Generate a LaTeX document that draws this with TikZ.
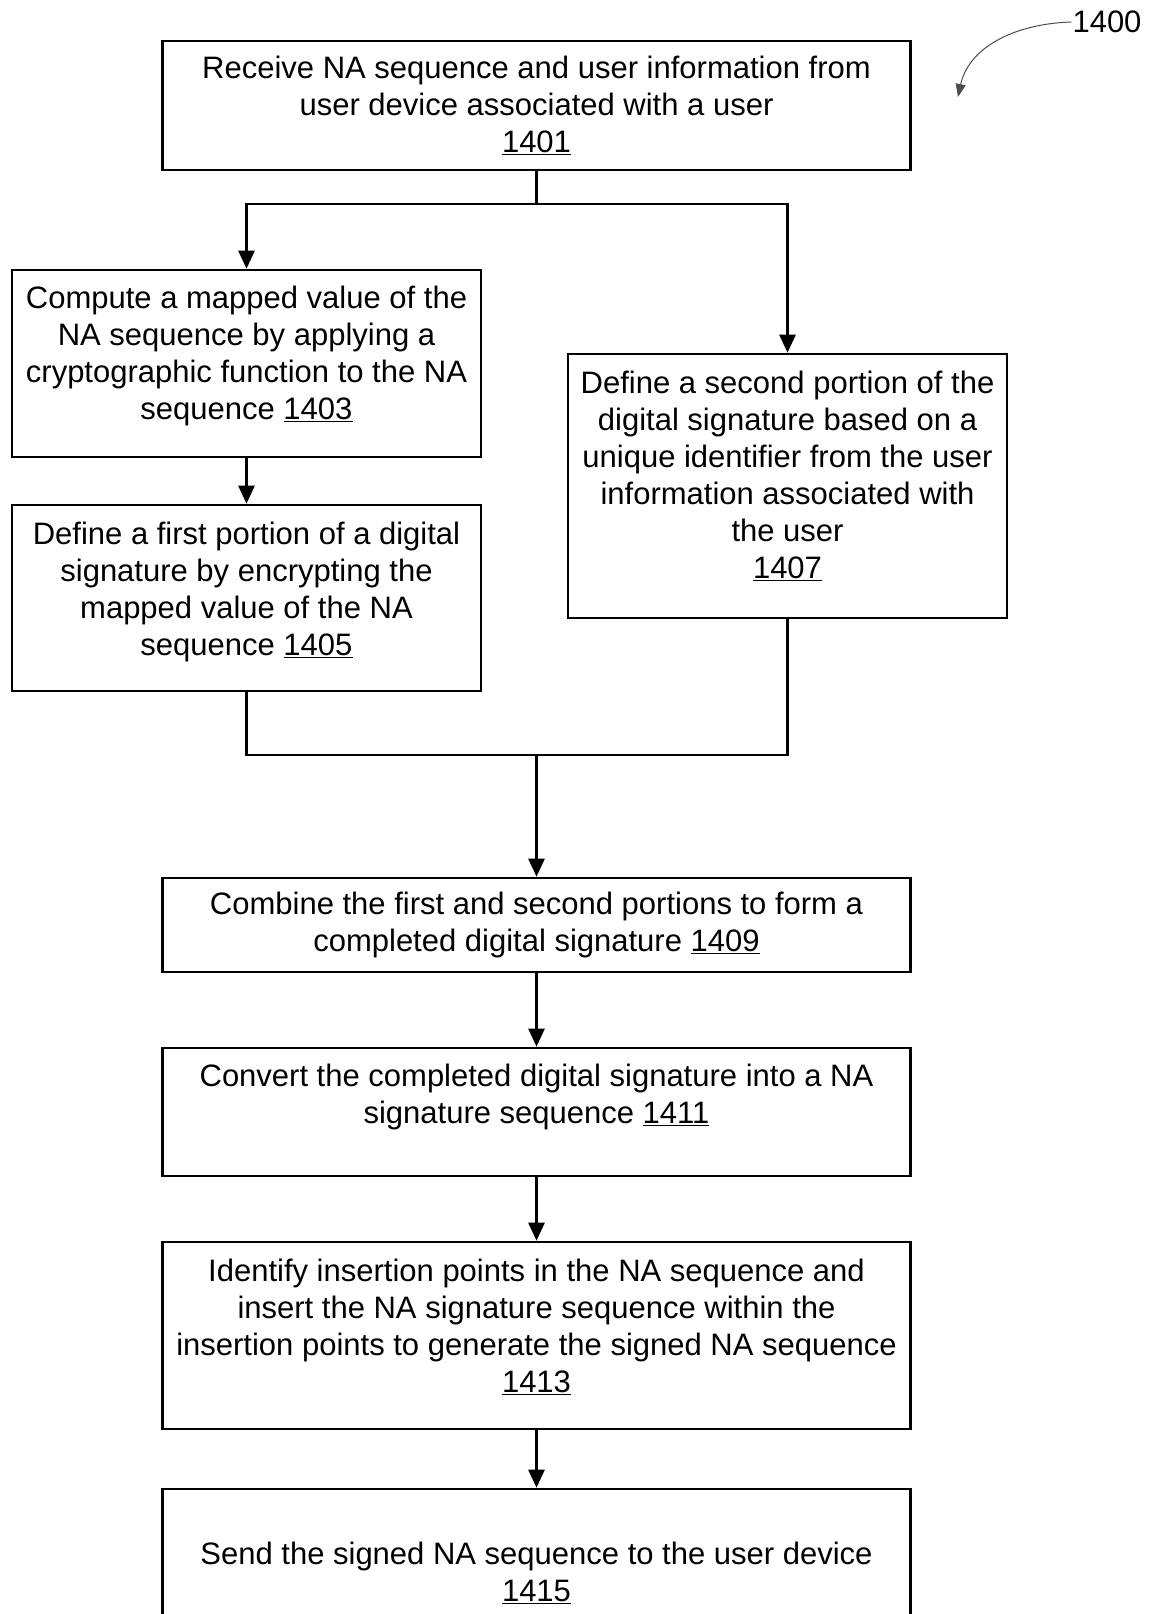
\documentclass[tikz,border=0pt]{standalone}
\usepackage{fontspec}
\setmainfont{Liberation Sans}
\usetikzlibrary{calc}
\usetikzlibrary{arrows.meta}

\begin{document}
\begin{tikzpicture}[x=1pt,y=-1pt,
  box/.style={draw=black,line width=2.6pt,rectangle,align=center,inner xsep=4pt,inner ysep=2pt,font=\fontsize{31}{37}\selectfont},
  arr/.style={black,line width=2.6pt,-{Triangle[length=18pt,width=16pt]}},
  lin/.style={black,line width=2.6pt}]

\useasboundingbox (0,0) rectangle (1149,1614);
\clip (0,0) rectangle (1149,1614);

\node[box,minimum width=748pt,minimum height=129pt] (b1401) at (536.5,105.5) {Receive NA sequence and user information from\\user device associated with a user\\\underline{1401}};
\node[box,minimum width=469pt,minimum height=187pt] (b1403) at (246.5,363.5) {Compute a mapped value of the\\NA sequence by applying a\\cryptographic function to the NA\\sequence \underline{1403}\rule[-22pt]{0pt}{22pt}};
\node[box,minimum width=469pt,minimum height=186pt] (b1405) at (246.5,598) {Define a first portion of a digital\\signature by encrypting the\\mapped value of the NA\\sequence \underline{1405}\rule[-19pt]{0pt}{19pt}};
\node[box,minimum width=439pt,minimum height=264pt] (b1407) at (787.5,486) {Define a second portion of the\\digital signature based on a\\unique identifier from the user\\information associated with\\the user\\\underline{1407}\rule[-23pt]{0pt}{23pt}};
\node[box,minimum width=748pt,minimum height=94pt] (b1409) at (536.5,925) {Combine the first and second portions to form a\\completed digital signature \underline{1409}};
\node[box,minimum width=748pt,minimum height=128pt] (b1411) at (536.5,1112) {Convert the completed digital signature into a NA\\signature sequence \underline{1411}\rule[-36pt]{0pt}{36pt}};
\node[box,minimum width=748pt,minimum height=187pt] (b1413) at (536.5,1335.5) {Identify insertion points in the NA sequence and\\insert the NA signature sequence within the\\insertion points to generate the signed NA sequence\\\underline{1413}\rule[-20pt]{0pt}{20pt}};
\node[box,minimum width=748pt,minimum height=168pt] (b1415) at (536.5,1573) {Send the signed NA sequence to the user device\\\underline{1415}};

\coordinate (s) at (536.5,204);
\coordinate (m) at (536.5,755);

\draw[lin] (b1401.south) -- (s);
\draw[arr] (s) -| (b1403.north);
\draw[arr] (s) -| (b1407.north);
\draw[arr] (b1403) -- (b1405);
\draw[lin] (b1405.south) |- (m) -| (b1407.south);
\draw[arr] (m) -- (b1409);
\draw[arr] (b1409) -- (b1411);
\draw[arr] (b1411) -- (b1413);
\draw[arr] (b1413) -- (b1415);

\node[font=\fontsize{31}{37}\selectfont,inner sep=1pt] (n1400) at (1107,22) {1400};
\coordinate (p) at (958,97);
\draw[black!70,line width=1pt,-{Triangle[length=13pt,width=10pt]}] (n1400.west) .. controls (1010,24) and (968,50) .. (p);

\end{tikzpicture}
\end{document}
